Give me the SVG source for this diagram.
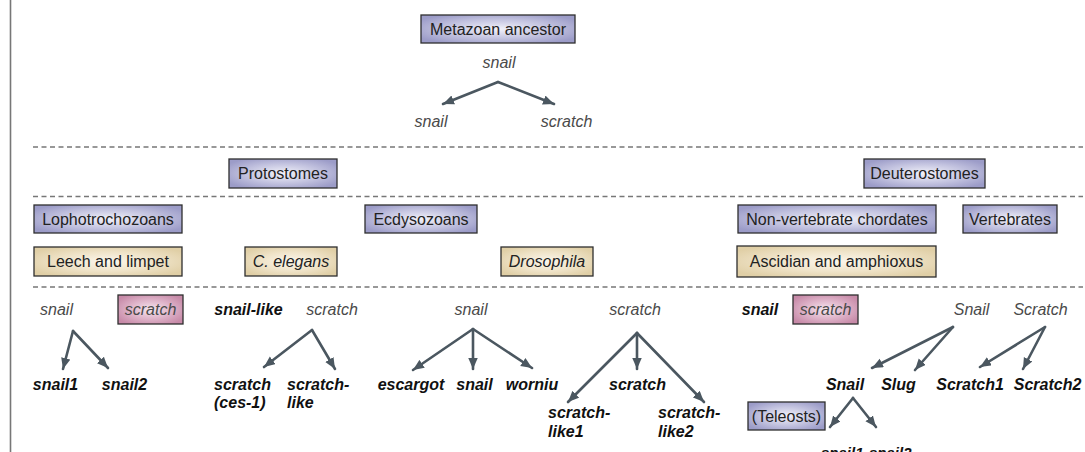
<svg xmlns="http://www.w3.org/2000/svg" width="1085" height="452" viewBox="0 0 1085 452">
<defs>
<radialGradient id="gP" cx="50%" cy="50%" r="60%"><stop offset="0" stop-color="#f2f2fa"/><stop offset="0.55" stop-color="#c4c4e0"/><stop offset="1" stop-color="#9c9cc8"/></radialGradient>
<radialGradient id="gT" cx="50%" cy="50%" r="60%"><stop offset="0" stop-color="#fbf6ec"/><stop offset="0.55" stop-color="#efe3c8"/><stop offset="1" stop-color="#e0cfa6"/></radialGradient>
<radialGradient id="gK" cx="50%" cy="50%" r="60%"><stop offset="0" stop-color="#f6e6ef"/><stop offset="0.55" stop-color="#deb2c8"/><stop offset="1" stop-color="#c78aa8"/></radialGradient>
<marker id="ah" markerUnits="userSpaceOnUse" markerWidth="12" markerHeight="10" refX="11" refY="4.75" orient="auto"><path d="M0,0 L11,4.75 L0,9.5 z" fill="#4b5760"/></marker>
</defs>
<style>
.bx{stroke:#2e2e2e;stroke-width:1.3}
.p{fill:url(#gP)}
.t{fill:url(#gT)}
.k{fill:url(#gK)}
text{font-family:"Liberation Sans",Arial,sans-serif;font-size:16px}
.lb{fill:#222;text-anchor:middle}
.it{font-style:italic}
.g{fill:#4a4a4a;font-style:italic;text-anchor:middle}
.b{fill:#111;font-style:italic;font-weight:bold}
.m{text-anchor:middle}
.dash{stroke:#777;stroke-width:1.5;stroke-dasharray:5 3.5;fill:none}
.ar{stroke:#4b5760;stroke-width:2.6;fill:none;stroke-linecap:round;marker-end:url(#ah)}
</style>
<line x1="10.5" y1="0" x2="10.5" y2="452" stroke="#777" stroke-width="1.6"/>
<g id="separators">
<line class="dash" x1="33" y1="147" x2="1083" y2="147"/>
<line class="dash" x1="33" y1="196.5" x2="1083" y2="196.5"/>
<line class="dash" x1="33" y1="287" x2="1083" y2="287"/>
</g>
<g id="n-metazoan"><rect class="bx p" x="421" y="15" width="154" height="28"/><text class="lb" x="498" y="34.7">Metazoan ancestor</text></g>
<g id="n-protostomes"><rect class="bx p" x="229" y="159" width="108" height="29"/><text class="lb" x="283" y="179">Protostomes</text></g>
<g id="n-deuterostomes"><rect class="bx p" x="864" y="159" width="121" height="29"/><text class="lb" x="924.5" y="179">Deuterostomes</text></g>
<g id="n-lopho"><rect class="bx p" x="34" y="205" width="148" height="28"/><text class="lb" x="108" y="224.7">Lophotrochozoans</text></g>
<g id="n-ecdy"><rect class="bx p" x="365" y="205" width="112" height="28"/><text class="lb" x="421" y="224.7">Ecdysozoans</text></g>
<g id="n-nonvert"><rect class="bx p" x="738" y="205" width="198" height="28"/><text class="lb" x="837" y="224.7">Non-vertebrate chordates</text></g>
<g id="n-vert"><rect class="bx p" x="963" y="205" width="94" height="28"/><text class="lb" x="1010" y="224.7">Vertebrates</text></g>
<g id="n-leech"><rect class="bx t" x="34" y="247" width="148" height="29"/><text class="lb" x="108" y="267">Leech and limpet</text></g>
<g id="n-celegans"><rect class="bx t" x="245" y="247" width="92" height="29"/><text class="lb it" x="291" y="267">C. elegans</text></g>
<g id="n-dros"><rect class="bx t" x="501" y="247" width="92" height="29"/><text class="lb it" x="547" y="267">Drosophila</text></g>
<g id="n-ascidian"><rect class="bx t" x="737" y="246" width="199" height="31"/><text class="lb" x="836.5" y="267">Ascidian and amphioxus</text></g>
<g id="n-teleosts"><rect class="bx p" x="748" y="402" width="77" height="28"/><text class="lb" x="786.5" y="421.6">(Teleosts)</text></g>

<g id="genes-top">
<text class="g" x="499" y="68">snail</text>
<text class="g" x="431" y="127">snail</text>
<text class="g" x="566.5" y="127">scratch</text>
</g>
<g id="genes-lopho">
<text class="g" x="56.5" y="315">snail</text>
<g id="n-scratch-lopho"><rect class="bx k" x="118" y="295" width="65" height="29"/><text class="g" x="150.5" y="315">scratch</text></g>
<text class="b m" x="55.5" y="390">snail1</text>
<text class="b m" x="124.5" y="390">snail2</text>
</g>
<g id="genes-celegans">
<text class="b m" x="248.5" y="315">snail-like</text>
<text class="g" x="332" y="315">scratch</text>
<text class="b" x="214" y="390">scratch</text>
<text class="b" x="214" y="408">(ces-1)</text>
<text class="b" x="287" y="390">scratch-</text>
<text class="b" x="287" y="408">like</text>
</g>
<g id="genes-dros">
<text class="g" x="471" y="315">snail</text>
<text class="g" x="635" y="315">scratch</text>
<text class="b m" x="411" y="390">escargot</text>
<text class="b m" x="474.5" y="390">snail</text>
<text class="b m" x="532" y="390">worniu</text>
<text class="b m" x="637.5" y="390">scratch</text>
<text class="b" x="548" y="418">scratch-</text>
<text class="b" x="548" y="437">like1</text>
<text class="b" x="658" y="418">scratch-</text>
<text class="b" x="658" y="437">like2</text>
</g>
<g id="genes-chordates">
<text class="b m" x="760" y="315">snail</text>
<g id="n-scratch-asc"><rect class="bx k" x="793" y="295" width="65" height="29"/><text class="g" x="825.5" y="315">scratch</text></g>
<text class="g" x="971.5" y="315">Snail</text>
<text class="g" x="1040.5" y="315">Scratch</text>
<text class="b m" x="845" y="390">Snail</text>
<text class="b m" x="898.5" y="390">Slug</text>
<text class="b m" x="970" y="390">Scratch1</text>
<text class="b m" x="1047.5" y="390">Scratch2</text>
<text class="b" x="821" y="458" style="font-size:15px">snail1</text>
<text class="b" x="869" y="458" style="font-size:15px">snail2</text>
</g>

<g id="connectors">
<line class="ar" x1="498" y1="82" x2="443" y2="104"/>
<line class="ar" x1="498" y1="82" x2="554" y2="104"/>
<line class="ar" x1="73" y1="331" x2="63" y2="369"/>
<line class="ar" x1="73" y1="331" x2="108" y2="368"/>
<line class="ar" x1="312" y1="330" x2="264" y2="367"/>
<line class="ar" x1="312" y1="330" x2="335" y2="369"/>
<line class="ar" x1="473" y1="329" x2="413" y2="370"/>
<line class="ar" x1="473" y1="329" x2="473" y2="369"/>
<line class="ar" x1="473" y1="329" x2="532" y2="368"/>
<line class="ar" x1="637" y1="333" x2="568" y2="402"/>
<line class="ar" x1="637" y1="333" x2="637" y2="369"/>
<line class="ar" x1="637" y1="333" x2="704" y2="402"/>
<line class="ar" x1="953" y1="327" x2="872" y2="368"/>
<line class="ar" x1="953" y1="327" x2="915" y2="370"/>
<line class="ar" x1="1045" y1="327" x2="980" y2="367"/>
<line class="ar" x1="1045" y1="327" x2="1023" y2="369"/>
<line class="ar" x1="853" y1="398" x2="830" y2="427"/>
<line class="ar" x1="853" y1="398" x2="876" y2="427"/>
</g>
</svg>
